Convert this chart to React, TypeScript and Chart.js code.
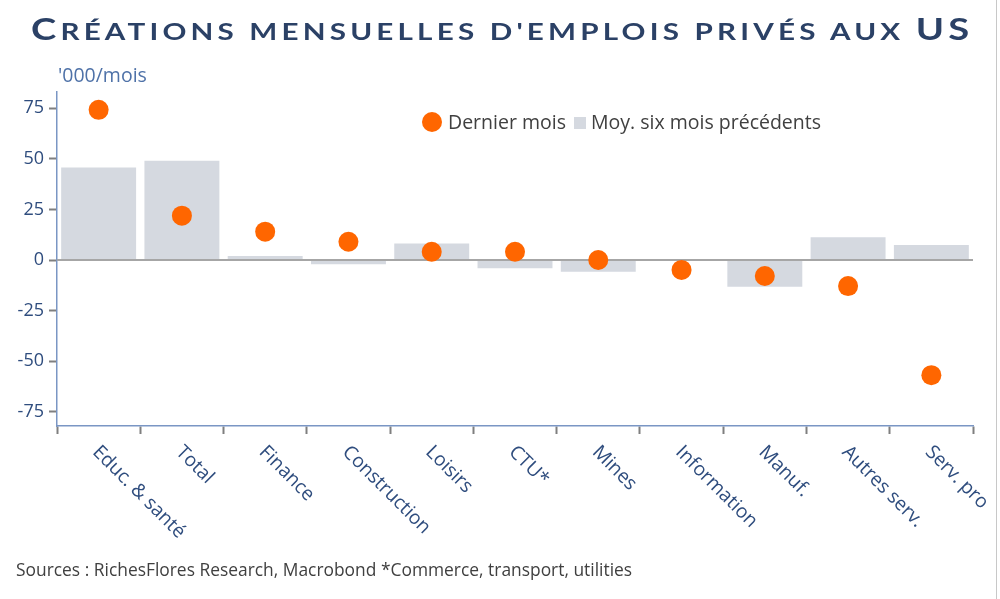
import React, { useEffect, useRef } from 'react';
import { Chart, registerables } from 'chart.js';

Chart.register(...registerables);

const categories = ['Educ. & santé', 'Total', 'Finance', 'Construction', 'Loisirs', 'CTU*', 'Mines', 'Information', 'Manuf.', 'Autres serv.', 'Serv. pro'];
const dernierMois = [74.2, 21.9, 14.0, 9.0, 4.1, 4.1, 0.0, -4.9, -7.9, -12.9, -56.9];
const moySixMois = [45.7, 49.0, 2.0, -2.1, 8.2, -4.1, -5.8, 0.5, -13.2, 11.2, 7.4];
const yTicks = [-75, -50, -25, 0, 25, 50, 75];

const FONT = "'Open Sans', sans-serif";
const BLUE = '#2f4d7e';

const zeroLinePlugin = {
  id: 'zeroLine',
  afterDatasetDraw(chart: any, args: any) {
    if (args.index !== 1) return;
    const { ctx, chartArea } = chart;
    const y = chart.scales.y.getPixelForValue(0);
    ctx.save();
    ctx.strokeStyle = '#a6a6a6';
    ctx.lineWidth = 2;
    ctx.beginPath();
    ctx.moveTo(chartArea.left, y);
    ctx.lineTo(chartArea.right, y);
    ctx.stroke();
    ctx.restore();
  },
};

const xLabelPlugin = {
  id: 'xLabels',
  afterDraw(chart: any) {
    const { ctx } = chart;
    const xs = chart.scales.x;
    ctx.save();
    ctx.fillStyle = BLUE;
    ctx.font = `19.3px ${FONT}`;
    ctx.textAlign = 'left';
    ctx.textBaseline = 'middle';
    categories.forEach((label, i) => {
      const x = xs.getPixelForValue(i);
      ctx.save();
      ctx.translate(x - 3, 449);
      ctx.rotate(Math.PI / 4);
      ctx.fillText(label, 0, 0);
      ctx.restore();
    });
    ctx.restore();
  },
};

export default function App() {
  const ref = useRef<HTMLCanvasElement>(null);

  useEffect(() => {
    document.body.style.margin = '0';
    const chart = new Chart(ref.current as HTMLCanvasElement, {
      type: 'bar',
      data: {
        labels: categories,
        datasets: [
          {
            type: 'line',
            label: 'Dernier mois',
            data: dernierMois,
            showLine: false,
            pointRadius: 10,
            pointHoverRadius: 10,
            pointBackgroundColor: '#ff6600',
            pointBorderWidth: 0,
            borderColor: '#ff6600',
            backgroundColor: '#ff6600',
          } as any,
          {
            type: 'bar',
            label: 'Moy. six mois précédents',
            data: moySixMois,
            backgroundColor: '#d5d9e0',
            borderWidth: 0,
            categoryPercentage: 0.9,
            barPercentage: 1.0,
          } as any,
        ],
      },
      options: {
        animation: false,
        responsive: false,
        maintainAspectRatio: false,
        layout: { padding: { top: 92, right: 27, left: 0, bottom: 0 } },
        plugins: {
          legend: { display: false },
          tooltip: { enabled: false },
          title: { display: false },
        },
        scales: {
          x: {
            type: 'category',
            offset: true,
            grid: {
              offset: true,
              color: 'transparent',
              tickColor: '#7f7f7f',
              tickLength: 8,
              tickWidth: 2,
              drawOnChartArea: false,
            },
            border: { color: '#7a96c4', width: 1.5 },
            ticks: { display: false },
            afterFit: (s: any) => { s.height = 173; },
          },
          y: {
            min: -82,
            max: 83,
            afterBuildTicks: (s: any) => { s.ticks = yTicks.map((v) => ({ value: v })); },
            afterFit: (s: any) => { s.width = 57; },
            grid: {
              color: 'transparent',
              drawOnChartArea: false,
              tickColor: '#7f7f7f',
              tickLength: 8,
              tickWidth: 2,
            },
            border: { color: '#7a96c4', width: 1.5 },
            ticks: {
              color: BLUE,
              font: { family: FONT, size: 18 },
              padding: 5,
            },
          },
        },
      },
      plugins: [zeroLinePlugin, xLabelPlugin],
    });
    return () => chart.destroy();
  }, []);

  const big = { fontSize: 30.5 };
  const small = { fontSize: 23.7, textTransform: 'uppercase' as const };

  return (
    <div style={{ position: 'relative', width: 1000, height: 599, background: '#fff', overflow: 'hidden' }}>
      <canvas ref={ref} width={1000} height={599} style={{ position: 'absolute', left: 0, top: 0, width: 1000, height: 599 }} />
      <div
        style={{
          position: 'absolute', left: 31, top: 8, whiteSpace: 'nowrap',
          fontFamily: 'Lato, sans-serif', fontWeight: 700, lineHeight: '40px',
          letterSpacing: 3.35, color: '#2b4166',
          transform: 'scaleX(1.25)', transformOrigin: 'left center',
        }}
      >
        <span style={big}>C</span><span style={small}>réations mensuelles d'emplois privés aux </span><span style={big}>US</span>
      </div>
      <div style={{ position: 'absolute', left: 58, top: 65, fontFamily: FONT, fontSize: 19.5, lineHeight: 1, color: '#4f72a8', whiteSpace: 'nowrap' }}>
        '000/mois
      </div>
      <div style={{ position: 'absolute', left: 422, top: 111.5, width: 20, height: 20, borderRadius: '50%', background: '#ff6600' }} />
      <div style={{ position: 'absolute', left: 448, top: 112, fontFamily: FONT, fontSize: 19.5, lineHeight: 1, color: '#404040', whiteSpace: 'nowrap' }}>
        Dernier mois
      </div>
      <div style={{ position: 'absolute', left: 574, top: 117, width: 12, height: 12, background: '#d5d9e0' }} />
      <div style={{ position: 'absolute', left: 591, top: 112, fontFamily: FONT, fontSize: 19.5, lineHeight: 1, color: '#404040', whiteSpace: 'nowrap' }}>
        Moy. six mois précédents
      </div>
      <div style={{ position: 'absolute', left: 16, top: 561, fontFamily: FONT, fontSize: 17.4, lineHeight: 1, color: '#404040', whiteSpace: 'nowrap' }}>
        Sources : RichesFlores Research, Macrobond *Commerce, transport, utilities
      </div>
      <div style={{ position: 'absolute', left: 996, top: 0, width: 1, height: 599, background: '#c8c8c8' }} />
    </div>
  );
}
